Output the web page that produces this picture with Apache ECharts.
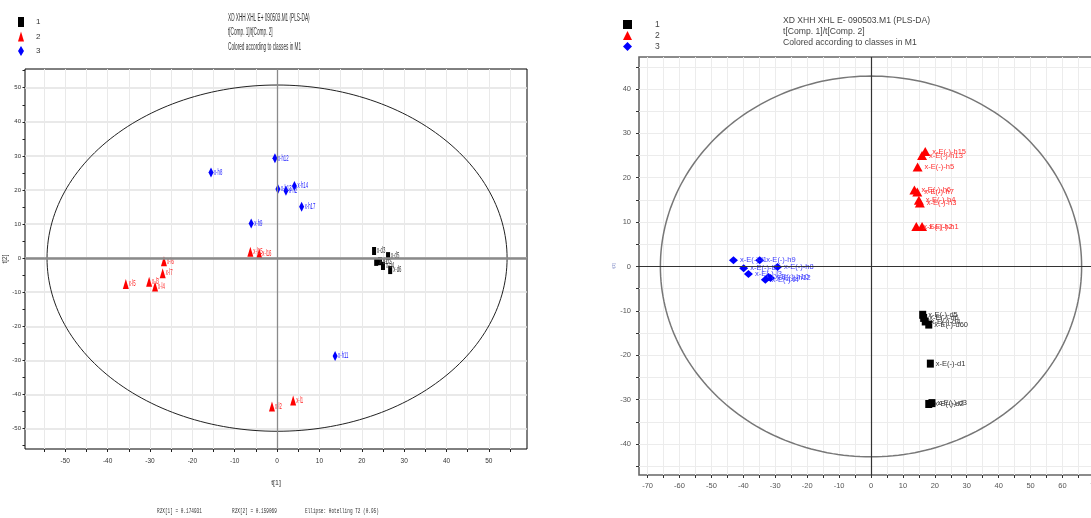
<!DOCTYPE html>
<html>
<head>
<meta charset="utf-8">
<script src="https://cdn.jsdelivr.net/npm/echarts@6/dist/echarts.min.js"></script>
<style>
  html, body { margin: 0; padding: 0; overflow: hidden; background: #fff; }
  #chart { width: 1120px; height: 518px; }
</style>
</head>
<body>
<div id="chart"></div>
<script>
// ===== Model M1, E+ : scores t[1] / t[2] =====
const posClass1Names = ['x-d3', 'x-d1', 'x-d2', 'x-d4', 'x-d5', 'x-d6'];
const posClass1T1 = [22.9, 23.4, 24.3, 25.0, 26.2, 26.7];
const posClass1T2 = [2.1, -1.1, -0.9, -2.3, 0.6, -3.5];

const posClass2Names = ['x-l5', 'x-l3', 'x-l4', 'x-l7', 'x-l6', 'x-l15', 'x-l16', 'x-l2', 'x-l1'];
const posClass2T1 = [-35.7, -30.2, -28.8, -27.0, -26.7, -6.3, -4.2, -1.2, 3.8];
const posClass2T2 = [-7.6, -6.9, -8.3, -4.4, -0.9, 1.9, 1.4, -43.5, -41.8];

const posClass3Names = ['x-h8', 'x-h9', 'x-h12', 'x-h13', 'x-h2', 'x-h14', 'x-h17', 'x-h11'];
const posClass3T1 = [-15.6, -6.1, -0.5, 0.2, 2.1, 4.1, 5.8, 13.7];
const posClass3T2 = [25.1, 10.2, 29.3, 20.3, 19.8, 21.2, 15.1, -28.7];

// Hotelling T2 (0.95) ellipse semi-axes
const posEllipse = [54.3, 50.8];

const posXTicks = [-55, -50, -45, -40, -35, -30, -25, -20, -15, -10, -5, 0, 5, 10, 15, 20, 25, 30, 35, 40, 45, 50, 55];
const posXLabels = [-50, -40, -30, -20, -10, 0, 10, 20, 30, 40, 50];
const posYTicks = [-55, -50, -45, -40, -35, -30, -25, -20, -15, -10, -5, 0, 5, 10, 15, 20, 25, 30, 35, 40, 45, 50, 55];
const posYLabels = [-50, -40, -30, -20, -10, 0, 10, 20, 30, 40, 50];

const posTitleLines = ['XD XHH XHL E+ 090503.M1 (PLS-DA)', 't[Comp. 1]/t[Comp. 2]', 'Colored according to classes in M1'];
const posFooter = ['R2X[1] = 0.174931', 'R2X[2] = 0.159069', 'Ellipse: Hotelling T2 (0.95)'];

// ===== Model M1, E- : scores t[1] / t[2] =====
const negClass1Names = ['x-E(-)-d5', 'x-E(-)-d6', 'x-E(-)-d4', 'x-E(-)-d60', 'x-E(-)-d1', 'x-E(-)-d2', 'x-E(-)-d3'];
const negClass1T1 = [16.2, 16.5, 17.0, 18.1, 18.6, 18.1, 19.1];
const negClass1T2 = [-10.9, -11.6, -12.4, -13.1, -21.9, -31.0, -30.8];

const negClass2Names = ['x-E(-)-h13', 'x-E(-)-h15', 'x-E(-)-h5', 'x-E(-)-h6', 'x-E(-)-h7', 'x-E(-)-h4', 'x-E(-)-h3', 'x-E(-)-h2', 'x-E(-)-h1'];
const negClass2T1 = [16.0, 17.0, 14.6, 13.6, 14.5, 15.0, 15.3, 14.2, 16.0];
const negClass2T2 = [25.0, 25.9, 22.4, 17.2, 16.8, 14.9, 14.3, 9.0, 9.0];

const negClass3Names = ['x-E(-)-l1', 'x-E(-)-h9', 'x-E(-)-l2', 'x-E(-)-h8', 'x-E(-)-l3', 'x-E(-)-h10', 'x-E(-)-l4', 'x-E(-)-h12'];
const negClass3T1 = [-43.1, -34.9, -39.9, -29.3, -38.4, -32.1, -33.1, -31.5];
const negClass3T2 = [1.4, 1.4, -0.4, -0.1, -1.7, -2.4, -3.0, -2.6];

const negEllipse = [66.0, 42.9];

const negXTicks = [-70, -65, -60, -55, -50, -45, -40, -35, -30, -25, -20, -15, -10, -5, 0, 5, 10, 15, 20, 25, 30, 35, 40, 45, 50, 55, 60, 65, 70];
const negXLabels = [-70, -60, -50, -40, -30, -20, -10, 0, 10, 20, 30, 40, 50, 60, 70];
const negYTicks = [-45, -40, -35, -30, -25, -20, -15, -10, -5, 0, 5, 10, 15, 20, 25, 30, 35, 40, 45];
const negYLabels = [-40, -30, -20, -10, 0, 10, 20, 30, 40];

const negTitleLines = ['XD XHH XHL E- 090503.M1 (PLS-DA)', 't[Comp. 1]/t[Comp. 2]', 'Colored according to classes in M1'];

const legendNames = ['1', '2', '3'];

// ---------- helpers ----------
const zip = (xs, ys) => xs.map((x, i) => [x, ys[i]]);
const FONT = 'Liberation Sans, Arial, sans-serif';

function ellipseSeries(semiAxes, xIdx, yIdx, color, width) {
  return {
    type: 'custom',
    xAxisIndex: xIdx, yAxisIndex: yIdx,
    silent: true, z: 1,
    data: [semiAxes],
    renderItem: function (params, api) {
      const a = api.value(0), b = api.value(1);
      const pts = [];
      for (let i = 0; i <= 240; i++) {
        const t = i / 240 * Math.PI * 2;
        pts.push(api.coord([a * Math.cos(t), b * Math.sin(t)]));
      }
      return { type: 'polyline', shape: { points: pts },
        style: { fill: null, stroke: color, lineWidth: width } };
    }
  };
}

// narrow point labels for the E+ panel
function labelSeries(xs, ys, names, color) {
  return {
    type: 'custom', xAxisIndex: 0, yAxisIndex: 0, silent: true, z: 4,
    data: zip(xs, ys),
    renderItem: function (params, api) {
      const p = api.coord([api.value(0), api.value(1)]);
      return { type: 'text', x: p[0] + 3, y: p[1], scaleX: 0.5,
        style: { text: names[params.dataIndex], fill: color, fontSize: 8.5,
                 fontFamily: FONT, align: 'left', verticalAlign: 'middle' } };
    }
  };
}

function scatter(name, xAxis, yAxis, data, symbol, size, color, extra) {
  return Object.assign({
    name: name, type: 'scatter', xAxisIndex: xAxis, yAxisIndex: yAxis,
    data: data, symbol: symbol, symbolSize: size, z: 3,
    itemStyle: { color: color, opacity: 1 }
  }, extra || {});
}

function negLabel(names, color) {
  return { show: true, position: 'right', distance: 2,
    formatter: p => names[p.dataIndex], color: color, fontSize: 7.5, fontFamily: FONT };
}

const zeroLine = (color, wx, wy) => ({
  silent: true, symbol: 'none', animation: false, label: { show: false },
  data: [
    { xAxis: 0, lineStyle: { color: color, width: wx, type: 'solid' } },
    { yAxis: 0, lineStyle: { color: color, width: wy, type: 'solid' } }
  ]
});

function textLines(lines, x, y0, step, size, color, scaleX, family) {
  return lines.map((t, i) => ({
    type: 'text', x: x, y: y0 + i * step, scaleX: scaleX || 1, silent: true,
    style: { text: t, fill: color, fontSize: size, fontFamily: family || FONT,
             align: 'left', verticalAlign: 'middle' }
  }));
}

const chart = echarts.init(document.getElementById('chart'), null, { renderer: 'canvas' });

const option = {
  animation: false,
  backgroundColor: '#fff',
  grid: [
    { left: 25, top: 69, width: 502, height: 380, show: true, borderColor: '#000', borderWidth: 1, backgroundColor: 'transparent' },
    { left: 639, top: 57, width: 464, height: 418, show: true, borderColor: '#666', borderWidth: 1.6, backgroundColor: 'transparent' }
  ],
  xAxis: [
    {
      gridIndex: 0, type: 'value', min: -59.5, max: 59, position: 'bottom',
      axisLine: { show: false, onZero: false },
      axisTick: { show: true, customValues: posXTicks, length: 3, lineStyle: { color: '#222' } },
      axisLabel: { customValues: posXLabels, fontSize: 6.5, color: '#333', margin: 9, fontFamily: FONT },
      splitLine: { show: true, lineStyle: { color: '#e9e9e9', width: 1 } },
      name: 't[1]', nameLocation: 'middle', nameGap: 31,
      nameTextStyle: { fontSize: 7, color: '#333', fontFamily: FONT }
    },
    {
      gridIndex: 1, type: 'value', min: -72.7, max: 72.7, position: 'bottom',
      axisLine: { show: false, onZero: false },
      axisTick: { show: true, customValues: negXTicks, length: 3, lineStyle: { color: '#333' } },
      axisLabel: { customValues: negXLabels, fontSize: 7.5, color: '#555', margin: 7, fontFamily: FONT },
      splitLine: { show: true, lineStyle: { color: '#ececec', width: 1 } }
    }
  ],
  yAxis: [
    {
      gridIndex: 0, type: 'value', min: -56, max: 55.5, position: 'left',
      axisLine: { show: false, onZero: false },
      axisTick: { show: false, customValues: posYLabels },
      axisLabel: { customValues: posYLabels, fontSize: 6, color: '#333', margin: 4, fontFamily: FONT },
      splitLine: { show: true, lineStyle: { color: '#e2e2e2', width: 1.5 } },
      name: 't[2]', nameLocation: 'middle', nameGap: 13, nameRotate: 90,
      nameTextStyle: { fontSize: 6.5, color: '#333', fontFamily: FONT }
    },
    {
      // minor tick marks every 5 units
      gridIndex: 0, type: 'value', min: -56, max: 55.5, position: 'left', offset: 0,
      axisLine: { show: false, onZero: false },
      axisTick: { show: true, customValues: posYTicks, length: 2.5, lineStyle: { color: '#222' } },
      axisLabel: { show: false },
      splitLine: { show: false }
    },
    {
      gridIndex: 1, type: 'value', min: -47, max: 47.2, position: 'left',
      axisLine: { show: false, onZero: false },
      axisTick: { show: true, customValues: negYTicks, length: 3, lineStyle: { color: '#333' } },
      axisLabel: { customValues: negYLabels, fontSize: 7.5, color: '#555', margin: 8, fontFamily: FONT },
      splitLine: { show: true, lineStyle: { color: '#ececec', width: 1 } },
      name: 't[2]', nameLocation: 'middle', nameGap: 20, nameRotate: 90,
      nameTextStyle: { fontSize: 3.5, color: '#4455aa', fontFamily: FONT }
    }
  ],
  legend: [
    {
      orient: 'vertical', left: 13, top: 12, itemWidth: 6, itemHeight: 10, itemGap: 4.5,
      selectedMode: false,
      textStyle: { fontSize: 8, color: '#333', fontFamily: FONT, padding: [0, 0, 0, 7] },
      data: [
        { name: '1', icon: 'rect', itemStyle: { color: '#000' } },
        { name: '2', icon: 'triangle', itemStyle: { color: '#ff0000' } },
        { name: '3', icon: 'diamond', itemStyle: { color: '#0000ff' } }
      ]
    },
    {
      orient: 'vertical', left: 618, top: 15, itemWidth: 9, itemHeight: 9, itemGap: 2,
      selectedMode: false,
      textStyle: { fontSize: 8.5, color: '#444', fontFamily: FONT, padding: [0, 0, 0, 18] },
      data: [
        { name: '1', icon: 'rect', itemStyle: { color: '#000' } },
        { name: '2', icon: 'triangle', itemStyle: { color: '#ff0000' } },
        { name: '3', icon: 'diamond', itemStyle: { color: '#0000ff' } }
      ]
    }
  ],
  graphic: [].concat(
    textLines(posTitleLines, 228, 18, 14.5, 10, '#333', 0.47),
    textLines(negTitleLines, 783, 20.5, 11, 8.6, '#444', 1),
    [
      { type: 'text', x: 157, y: 510.5, scaleX: 0.55, silent: true,
        style: { text: posFooter[0], fill: '#333', fontSize: 8, fontFamily: 'Liberation Mono, monospace', verticalAlign: 'middle' } },
      { type: 'text', x: 232, y: 510.5, scaleX: 0.55, silent: true,
        style: { text: posFooter[1], fill: '#333', fontSize: 8, fontFamily: 'Liberation Mono, monospace', verticalAlign: 'middle' } },
      { type: 'text', x: 305, y: 510.5, scaleX: 0.55, silent: true,
        style: { text: posFooter[2], fill: '#333', fontSize: 8, fontFamily: 'Liberation Mono, monospace', verticalAlign: 'middle' } }
    ]
  ),
  series: [
    ellipseSeries(posEllipse, 0, 0, '#222', 1),
    scatter(legendNames[0], 0, 0, zip(posClass1T1, posClass1T2), 'rect', [4, 8], '#000',
      { markLine: zeroLine('#8a8a8a', 1.3, 2.5) }),
    scatter(legendNames[1], 0, 0, zip(posClass2T1, posClass2T2), 'triangle', [6, 10], '#ff0000'),
    scatter(legendNames[2], 0, 0, zip(posClass3T1, posClass3T2), 'diamond', [5, 10], '#0000ff'),
    labelSeries(posClass1T1, posClass1T2, posClass1Names, '#333'),
    labelSeries(posClass2T1, posClass2T2, posClass2Names, '#ff2020'),
    labelSeries(posClass3T1, posClass3T2, posClass3Names, '#2222ff'),

    ellipseSeries(negEllipse, 1, 2, '#777', 1.5),
    scatter(legendNames[0], 1, 2, zip(negClass1T1, negClass1T2), 'rect', [7, 8], '#000',
      { label: negLabel(negClass1Names, '#333'), markLine: zeroLine('#333', 1.2, 1.2) }),
    scatter(legendNames[1], 1, 2, zip(negClass2T1, negClass2T2), 'triangle', [10, 9], '#ff0000',
      { label: negLabel(negClass2Names, '#ff3030') }),
    scatter(legendNames[2], 1, 2, zip(negClass3T1, negClass3T2), 'diamond', [9, 8], '#0000ff',
      { label: negLabel(negClass3Names, '#4040ff') })
  ]
};

chart.setOption(option);
</script>
</body>
</html>
